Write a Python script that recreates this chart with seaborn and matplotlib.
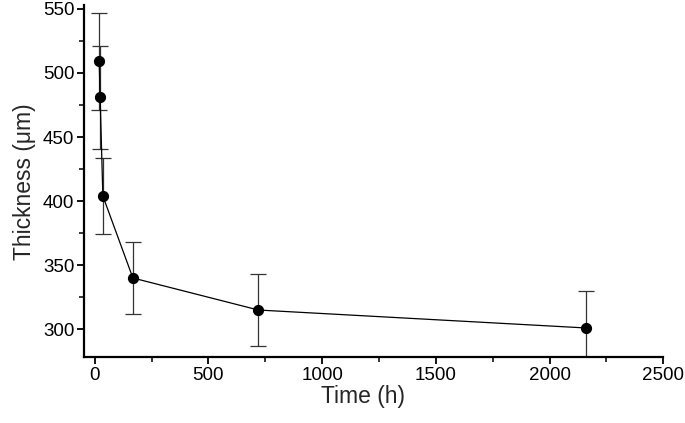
import pandas as pd
import seaborn as sns
import matplotlib.pyplot as plt
from matplotlib.ticker import MultipleLocator

# data
time_h = [20, 24, 36, 168, 720, 2160]
thickness = [509, 481, 404, 340, 315, 301]
err = [38, 40, 30, 28, 28, 29]

df = pd.DataFrame({'time': time_h, 'thickness': thickness, 'err': err})

sns.set_style('ticks')
plt.rcParams['font.family'] = ['Liberation Sans', 'DejaVu Sans']

fig = plt.figure(figsize=(6.85, 4.23), dpi=100)
ax = fig.add_axes([0.1226, 0.155, 0.8457, 0.833])

# error bars first, then line + markers on top
ax.errorbar(df['time'], df['thickness'], yerr=df['err'], fmt='none',
            ecolor='#333333', elinewidth=0.9, capsize=5.5, capthick=0.9, zorder=1)
sns.lineplot(data=df, x='time', y='thickness', ax=ax, sort=False,
             color='black', linewidth=0.9, marker='o', markersize=7.3,
             markeredgecolor='black', markerfacecolor='black', zorder=2)

ax.set_xlim(-47, 2500)
ax.set_ylim(278, 553)
ax.xaxis.set_major_locator(MultipleLocator(500))
ax.xaxis.set_minor_locator(MultipleLocator(250))
ax.yaxis.set_major_locator(MultipleLocator(50))
ax.yaxis.set_minor_locator(MultipleLocator(25))

ax.tick_params(which='major', direction='out', length=5, width=1.3, labelsize=13.5,
               colors='black', pad=2)
ax.tick_params(which='minor', direction='out', length=3.5, width=1.1, colors='black')

for side in ['top', 'right']:
    ax.spines[side].set_visible(False)
for side in ['left', 'bottom']:
    ax.spines[side].set_linewidth(1.6)
    ax.spines[side].set_color('black')

ax.set_xlabel('Time (h)', fontsize=16.5)
ax.xaxis.set_label_coords(0.482, -0.078)
ax.set_ylabel('Thickness (\u03bcm)', fontsize=16.5, labelpad=5)

plt.savefig('out.png', dpi=100)
